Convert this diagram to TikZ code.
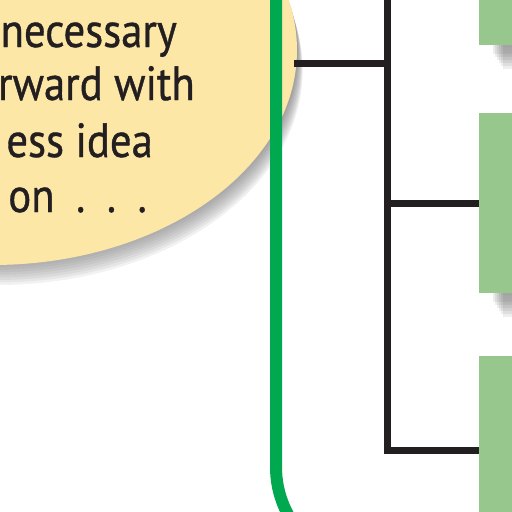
\documentclass[tikz,border=0pt]{standalone}
\usepackage{fontspec}
\setmainfont[FakeStretch=0.89, FakeBold=0.8]{PT Sans}
\usetikzlibrary{shapes.geometric, backgrounds, positioning}
\definecolor{cream}{RGB}{253,231,167}
\definecolor{leaf}{RGB}{151,199,140}
\definecolor{rule}{RGB}{0,168,80}
\definecolor{ink}{RGB}{35,31,32}
\definecolor{shade}{RGB}{80,85,105}
\begin{document}
\begin{tikzpicture}[x=1pt, y=-1pt, box/.style={fill=leaf, minimum width=70pt, inner sep=0pt}, txt/.style={anchor=base east, inner sep=0pt, text=ink, font=\fontsize{48}{56}\selectfont}, stem/.style={ink, line width=7pt}]
\useasboundingbox (0,0) rectangle (512,512);
\node[ellipse, fill=cream, minimum width=610pt, minimum height=430pt, inner sep=0pt] (idea) at (-8,50) {};
\node[txt] (l1) at (177,47) {necessary};
\node[txt] (l2) at (195,100) {rward with};
\node[txt] (l3) at (153,157) {ess idea};
\node[txt] (l4) at (147,212) {on\hspace{.45em}.\hspace{.45em}.\hspace{.45em}.};
\node[box, minimum height=65pt] (b1) at (514,12.5) {};
\node[box, minimum height=180pt] (b2) at (514,203) {};
\node[box, minimum height=214pt] (b3) at (514,463) {};
\begin{scope}[on background layer]
\foreach \k in {1,...,8} \fill[shade, opacity=.055] ([shift={(.7*\k,2.5*\k)}]idea.center) ellipse [x radius=305, y radius=215];
\foreach \b in {b1,b2} \foreach \k in {1,...,6} \fill[shade, opacity=.07] ([shift={(12+2*\k,-20)}]\b.south west) rectangle ([shift={(0,6+3*\k)}]\b.south east);
\end{scope}
\coordinate (t0) at (387.5,-10);
\coordinate (t1) at (387.5,450);
\coordinate (j1) at (387.5,63.5);
\draw[stem] (t0) -- (t1) -- (t1 -| b3.west);
\draw[stem] (b2.west) -- (b2.west -| t1);
\draw[stem] (j1) -- ([xshift=-3pt]j1 -| idea.east);
\draw[rule, line width=12pt, rounded corners=100pt] (276,-10) -- (276,567) -- (620,567);
\end{tikzpicture}
\end{document}
